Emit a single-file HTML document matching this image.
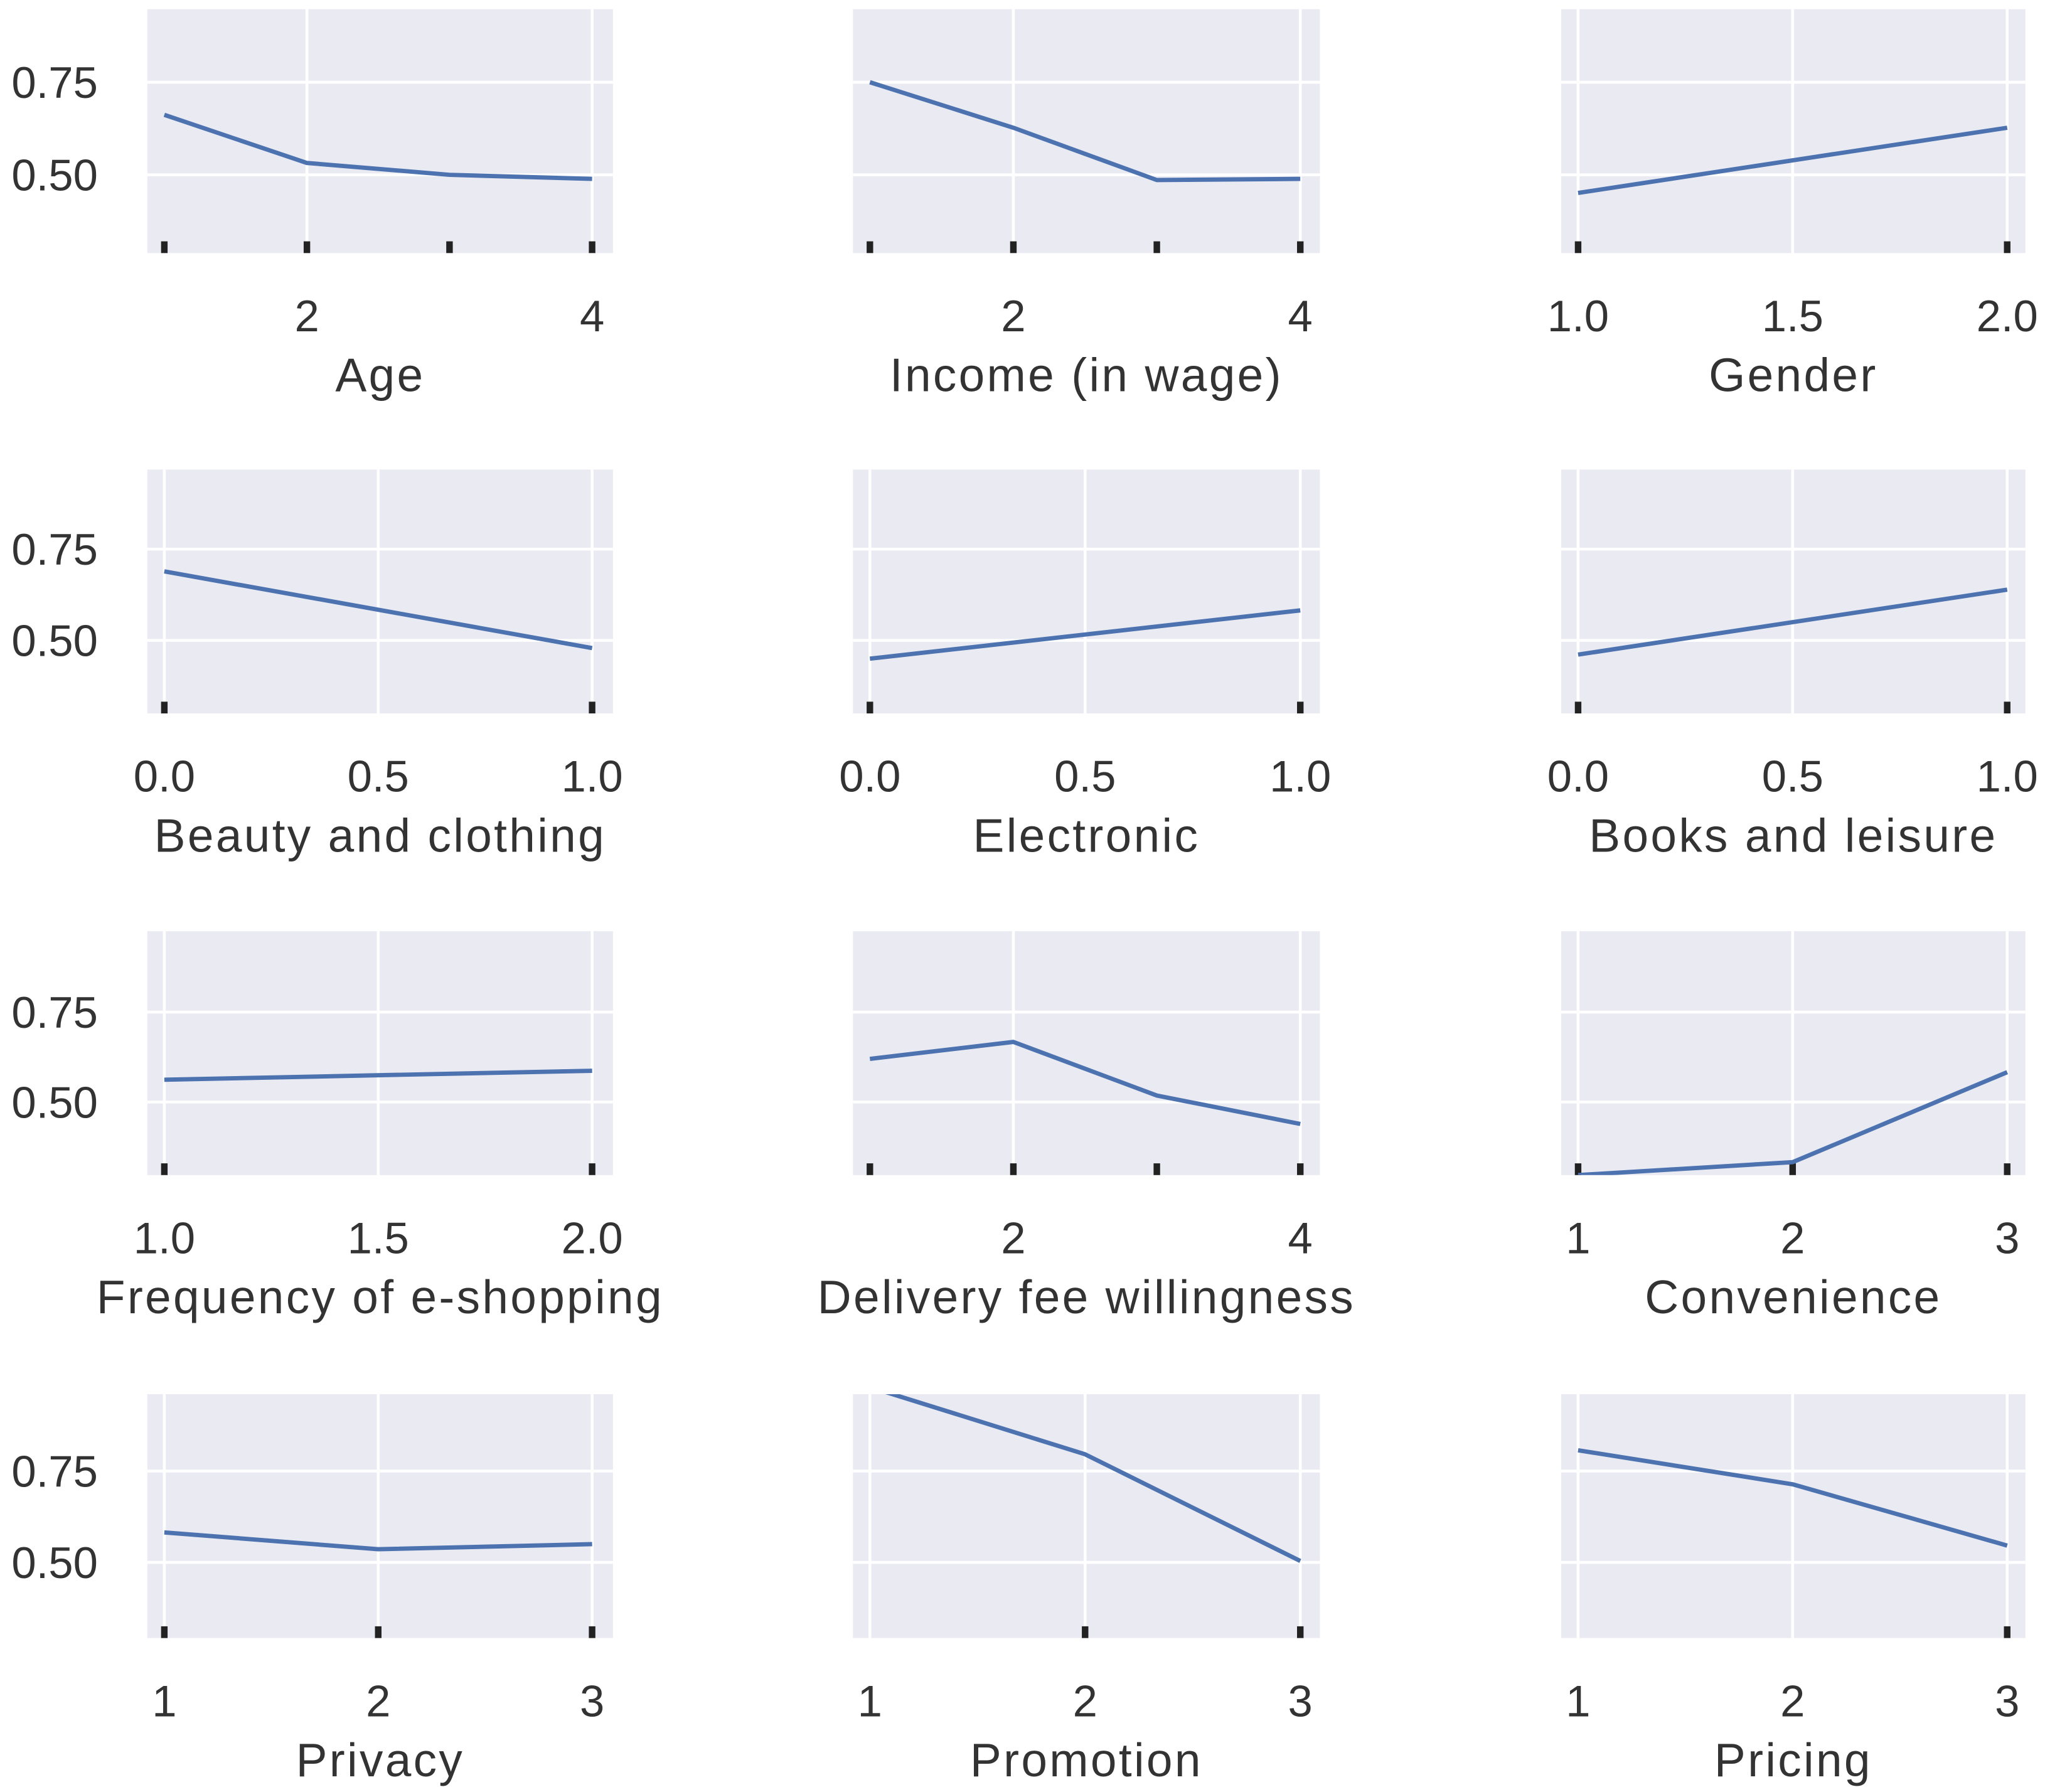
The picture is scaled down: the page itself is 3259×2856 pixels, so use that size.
<!DOCTYPE html>
<html><head><meta charset="utf-8"><style>
html,body{margin:0;padding:0;background:#fff;}
svg{display:block;}
text{font-family:"Liberation Sans",sans-serif;fill:#333;}
</style></head><body>
<svg id="chart" width="3259" height="2856" viewBox="0 0 1568 1374" xmlns="http://www.w3.org/2000/svg"></svg>
<script>
const titles = ["Age","Income (in wage)","Gender","Beauty and clothing","Electronic","Books and leisure","Frequency of e-shopping","Delivery fee willingness","Convenience","Privacy","Promotion","Pricing"];
const xValues = [[1,2,3,4],[1,2,3,4],[1,2],[0,1],[0,1],[0,1],[1,2],[1,2,3,4],[1,2,3],[1,2,3],[1,2,3],[1,2,3]];
const yValues = [[0.662,0.532,0.50,0.489],[0.75,0.627,0.486,0.489],[0.451,0.627],[0.689,0.479],[0.45,0.582],[0.461,0.639],[0.562,0.587],[0.62,0.667,0.518,0.439],[0.297,0.333,0.583],[0.582,0.536,0.55],[0.98,0.796,0.504],[0.807,0.714,0.546]];
const xTicks = [[2,4],[2,4],[1.0,1.5,2.0],[0,0.5,1],[0,0.5,1],[0,0.5,1],[1.0,1.5,2.0],[2,4],[1,2,3],[1,2,3],[1,2,3],[1,2,3]];
const xTickLabels = [["2","4"],["2","4"],["1.0","1.5","2.0"],["0.0","0.5","1.0"],["0.0","0.5","1.0"],["0.0","0.5","1.0"],["1.0","1.5","2.0"],["2","4"],["1","2","3"],["1","2","3"],["1","2","3"],["1","2","3"]];
const rugX = [[1,2,3,4],[1,2,3,4],[1,2],[0,1],[0,1],[0,1],[1,2],[1,2,3,4],[1,2,3],[1,2,3],[2,3],[3]];
const yTicks = [0.50,0.75];
const yTickLabels = ["0.50","0.75"];

const NS="http://www.w3.org/2000/svg";
const svg=document.getElementById('chart');
const colPanel=[[113,470],[654,1012],[1197,1553]];
const colData=[[126,454],[667,997],[1210,1539]];
const rowTop=[7,360,714,1069];
const rowG=[[134,63],[491,421],[845,776],[1198,1128]];
const PH=187;
function mk(tag,attrs,parent){const e=document.createElementNS(NS,tag);for(const k in attrs)e.setAttribute(k,attrs[k]);(parent||svg).appendChild(e);return e;}
const defs=mk('defs',{});
for(let i=0;i<12;i++){
  const r=Math.floor(i/3),c=i%3;
  const [px0,px1]=colPanel[c],[dx0,dx1]=colData[c];
  const top=rowTop[r],bot=top+PH;
  const xs=xValues[i],xmin=Math.min(...xs),xmax=Math.max(...xs);
  const X=v=>dx0+(v-xmin)/(xmax-xmin)*(dx1-dx0);
  const Y=v=>rowG[r][0]-(v-0.5)/0.25*(rowG[r][0]-rowG[r][1]);
  const g=mk('g',{});
  
  
  const cp=mk('clipPath',{id:'cp'+i},defs);
  mk('rect',{x:px0,y:top,width:px1-px0,height:PH},cp);
  const bg=mk('rect',{x:px0,y:top,width:px1-px0,height:PH,fill:'#eaeaf2'},g);
  
  
  yTicks.forEach(v=>{const l=mk('line',{x1:px0,x2:px1,y1:Y(v),y2:Y(v),stroke:'#fff','stroke-width':2.2},g);
    });
  xTicks[i].forEach((v,j)=>{
    const l=mk('line',{x1:X(v),x2:X(v),y1:top,y2:bot,stroke:'#fff','stroke-width':2.2},g);
    
    const t=mk('text',{x:X(v),y:bot+60,'font-size':34,'text-anchor':'middle'},g);
    
    t.textContent=xTickLabels[i][j];
  });
  rugX[i].forEach(v=>{const m=mk('rect',{x:X(v)-2.5,y:bot-9,width:5,height:9,fill:'#222'},g);
    });
  const pts=xs.map((v,j)=>X(v).toFixed(1)+','+Y(yValues[i][j]).toFixed(1)).join(' ');
  const pl=mk('polyline',{points:pts,fill:'none',stroke:'#4c72b0','stroke-width':3.3,'stroke-linejoin':'round','clip-path':'url(#cp'+i+')'},g);
  
  const at=mk('text',{x:(px0+px1)/2,y:bot+106,'font-size':36,'letter-spacing':1.6,'text-anchor':'middle'},g);
  
  at.textContent=titles[i];
  if(c===0){yTicks.forEach((v,j)=>{const t=mk('text',{x:75,y:Y(v)+12,'font-size':34,'text-anchor':'end'},g);
    t.textContent=yTickLabels[j];});}
}
</script>
</body></html>
